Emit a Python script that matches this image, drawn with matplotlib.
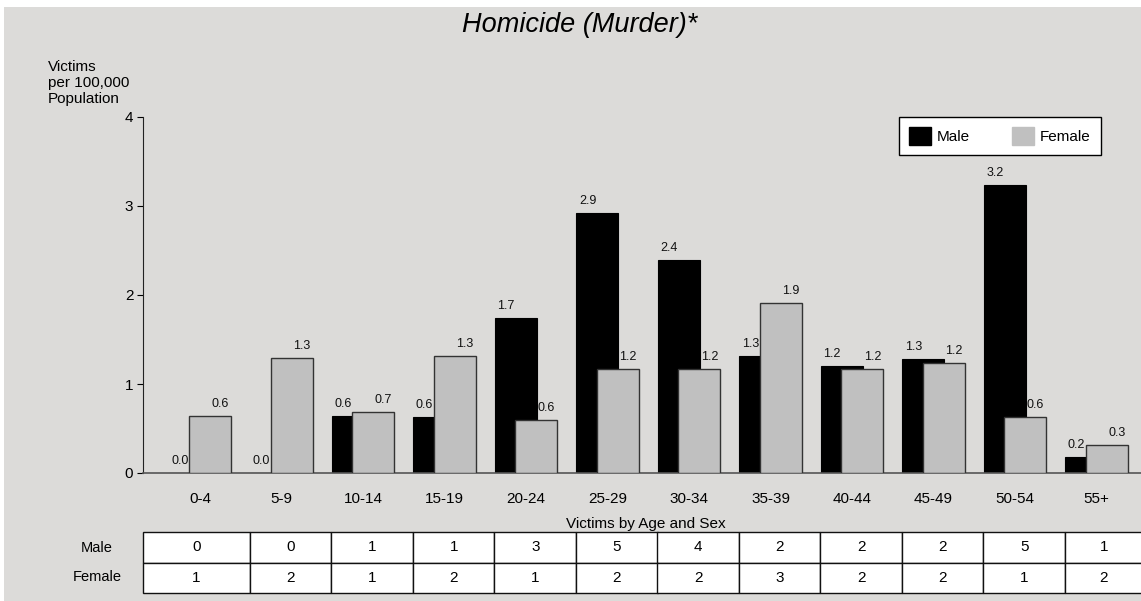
import matplotlib
matplotlib.use("Agg")
import numpy as np
from matplotlib import pyplot as plt
from matplotlib.patches import Patch, Rectangle

plt.rcParams["font.family"] = ["Liberation Sans", "DejaVu Sans"]

# data
ages = ["0-4", "5-9", "10-14", "15-19", "20-24", "25-29", "30-34",
        "35-39", "40-44", "45-49", "50-54", "55+"]
male_rate = [0.0, 0.0, 0.64, 0.63, 1.74, 2.92, 2.39, 1.31, 1.20, 1.28, 3.24, 0.18]
female_rate = [0.64, 1.29, 0.68, 1.32, 0.60, 1.17, 1.17, 1.91, 1.17, 1.24, 0.63, 0.32]
male_count = [0, 0, 1, 1, 3, 5, 4, 2, 2, 2, 5, 1]
female_count = [1, 2, 1, 2, 1, 2, 2, 3, 2, 2, 1, 2]

W, H = 1141, 601
bg = "#dcdbd9"
fig = plt.figure(figsize=(W / 100, H / 100), dpi=100, facecolor="white")
fig.patches.append(Rectangle((4 / W, 0), 1 - 4 / W, 1 - 7 / H, transform=fig.transFigure,
                             facecolor=bg, edgecolor="none", zorder=-10))

# axes placed in pixels: x 143..1141, y 117..473 (from top)
ax = fig.add_axes([143 / W, (H - 473) / H, (W - 143) / W, (473 - 117) / H])
ax.set_facecolor("none")

x = np.arange(len(ages))
bw = 0.515
ax.bar(x - 0.126, male_rate, bw, color="black", edgecolor="black", linewidth=0.8, zorder=2)
ax.bar(x + 0.126, female_rate, bw, color="#c0c0c0", edgecolor="#333333", linewidth=1.0, zorder=3)

for i in range(len(ages)):
    ax.text(x[i] - 0.245, male_rate[i] + 0.135, f"{male_rate[i]:.1f}", ha="center", va="center",
            fontsize=9, color="#111111", zorder=4)
    ax.text(x[i] + 0.25, female_rate[i] + 0.135, f"{female_rate[i]:.1f}", ha="center", va="center",
            fontsize=9, color="#111111", zorder=4)

ax.set_xlim(-0.699, 11.546)
ax.set_ylim(0, 4)
ax.set_yticks([0, 1, 2, 3, 4])
ax.set_xticks(x)
ax.set_xticklabels(ages)
ax.tick_params(axis="x", length=0, pad=14, labelsize=11)
ax.tick_params(axis="y", length=4, width=0.8, pad=3, labelsize=11)
for s in ["top", "right"]:
    ax.spines[s].set_visible(False)
ax.spines["left"].set_color("#222222")
ax.spines["bottom"].set_color("#555555")
ax.spines["bottom"].set_linewidth(1.2)

leg = ax.legend(handles=[Patch(facecolor="black", edgecolor="black", label="Male"),
                         Patch(facecolor="#c0c0c0", edgecolor="#c0c0c0", label="Female")],
                ncol=2, loc="upper left", bbox_to_anchor=(899 / W, 1 - 117 / H),
                bbox_transform=fig.transFigure, fontsize=11, frameon=True, fancybox=False,
                framealpha=1, edgecolor="black", handlelength=1.45, handleheight=1.45,
                handletextpad=0.4, columnspacing=2.7, borderpad=0.65, borderaxespad=0)
leg.get_frame().set_linewidth(1.0)

fig.text(580 / W, 1 - 32 / H, "Homicide (Murder)*", ha="center", va="baseline",
         fontsize=19.5, style="italic")
fig.text(48 / W, 1 - 60 / H, "Victims\nper 100,000\nPopulation", ha="left", va="top",
         fontsize=11, linespacing=1.2)
fig.text(646 / W, 1 - 524 / H, "Victims by Age and Sex", ha="center", va="center", fontsize=11)

# table
col_w = [107] + [81.5] * 10 + [78]
axw = W - 143
tbl = ax.table(cellText=[male_count, female_count], colWidths=[c / axw for c in col_w],
               cellLoc="center", bbox=[0, (473 - 593) / 356, sum(col_w) / axw, (593 - 532) / 356])
tbl.auto_set_font_size(False)
tbl.set_fontsize(11)
for (r, c), cell in tbl.get_celld().items():
    cell.set_facecolor("white")
    cell.set_edgecolor("#111111")
    cell.set_linewidth(1.0)

fig.text(97 / W, 1 - 548 / H, "Male", ha="center", va="center", fontsize=10.5)
fig.text(97 / W, 1 - 577 / H, "Female", ha="center", va="center", fontsize=10.5)

fig.savefig("out.png", dpi=100, facecolor=fig.get_facecolor())
